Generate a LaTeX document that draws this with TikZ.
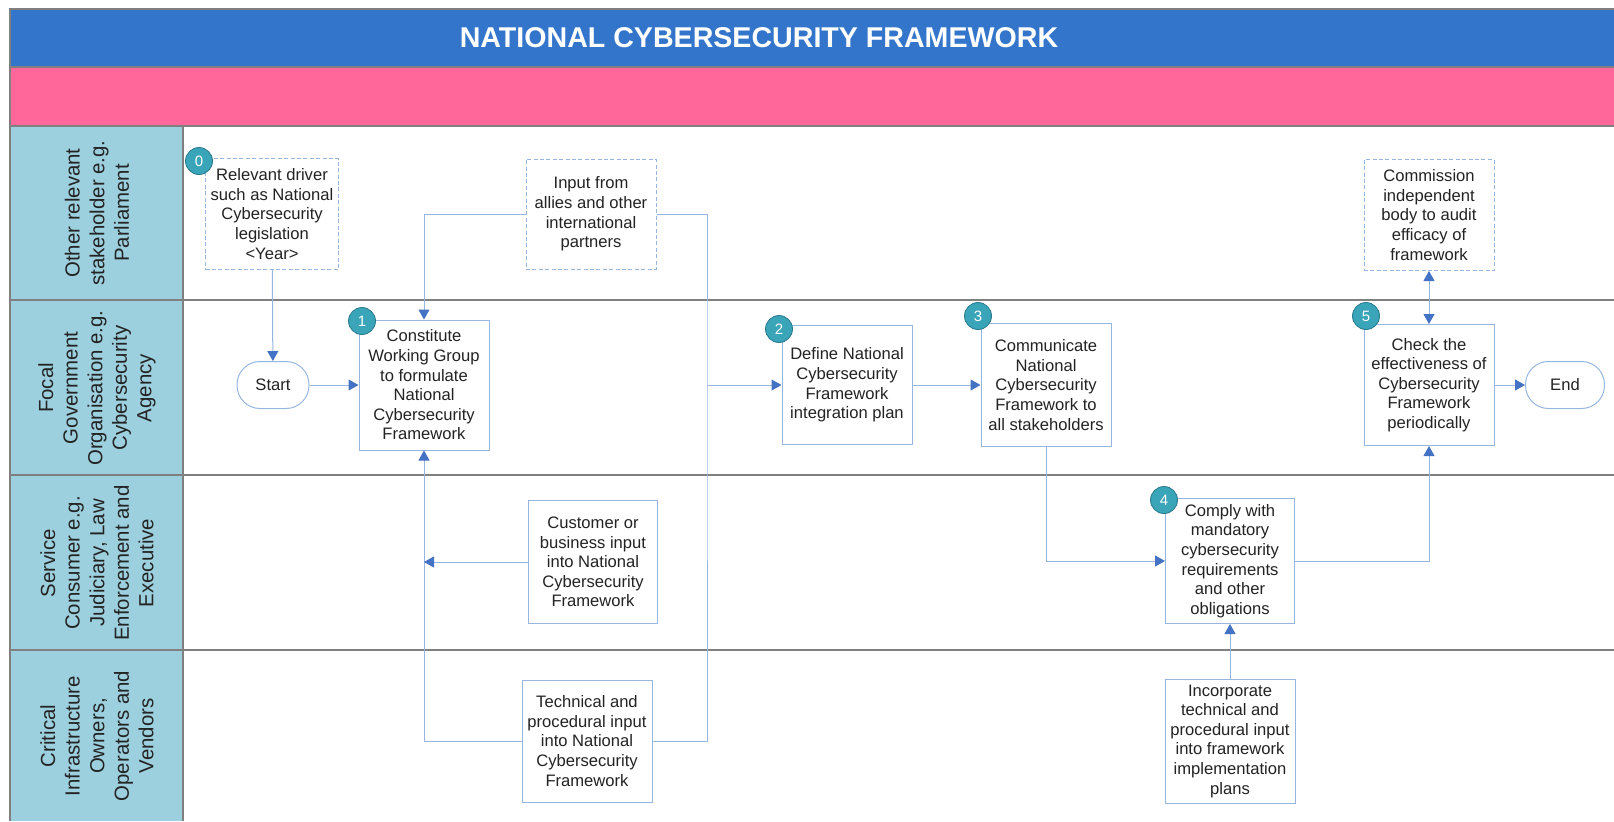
\documentclass[tikz,border=0pt]{standalone}
\usepackage{fontspec}
\setmainfont{Liberation Sans}
\usetikzlibrary{arrows.meta}
\definecolor{titleblue}{RGB}{52,117,204}
\definecolor{bandpink}{RGB}{255,102,153}
\definecolor{lanefill}{RGB}{157,208,222}
\definecolor{boxline}{RGB}{150,182,224}
\definecolor{arrowblue}{RGB}{68,114,196}
\definecolor{badgeteal}{RGB}{58,164,184}
\definecolor{badgeedge}{RGB}{40,120,140}
\definecolor{gridgray}{RGB}{128,128,128}
\definecolor{textgray}{RGB}{35,35,35}
\tikzset{
  proc/.style={draw=boxline, fill=white, line width=0.5pt, minimum width=65pt, inner sep=0pt, align=center, text=textgray, font=\fontsize{8.3}{9.8}\selectfont},
  ext/.style={proc, dash pattern=on 2pt off 1.2pt},
  term/.style={proc, rounded corners=11.5pt, minimum height=23.5pt},
  badge/.style={circle, draw=badgeedge, fill=badgeteal, minimum size=13.5pt, inner sep=0pt, text=white, font=\fontsize{7.5}{8}\selectfont},
  lane/.style={rotate=90, align=center, text=textgray, font=\fontsize{10.2}{12.3}\selectfont},
  title/.style={text=white, font=\fontsize{14.3}{17}\selectfont\bfseries},
  grid/.style={gridgray, line width=0.75pt},
  link/.style={draw=boxline, line width=0.5pt},
  flow/.style={link, -{Triangle[length=5pt, width=5.5pt, color=arrowblue]}},
  dflow/.style={link, {Triangle[length=5pt, width=5.5pt, color=arrowblue]}-{Triangle[length=5pt, width=5.5pt, color=arrowblue]}},
}
\begin{document}
\begin{tikzpicture}[x=0.5pt,y=-0.5pt]
        \useasboundingbox (0,0) rectangle (1614,821);
        \fill[titleblue] (10,9) rectangle (1614,67);
        \fill[bandpink] (10,67) rectangle (1614,126);
        \fill[lanefill] (10,126) rectangle (183,821);
        \draw[grid] (10,821) -- (10,9) -- (1614,9);
        \draw[grid] (10,67) -- (1614,67);
        \draw[grid] (10,126) -- (1614,126);
        \foreach \y in {300,475,650} \draw[grid] (10,\y) -- (1614,\y);
        \draw[grid] (183,126) -- (183,821);
        \node[title] (ttl) at (759,38) {NATIONAL CYBERSECURITY FRAMEWORK};
        
        \node[lane] (l1) at (97,213) {Other relevant\\stakeholder e.g.\\Parliament};
        \node[lane] (l2) at (97,388) {Focal\\Government\\Organisation e.g.\\Cybersecurity\\Agency};
        \node[lane] (l3) at (97,563) {Service\\Consumer e.g.\\Judiciary, Law\\Enforcement and\\Executive};
        \node[lane] (l4) at (97,736) {Critical\\Infrastructure\\Owners,\\Operators and\\Vendors};
        
        \node[ext, minimum width=66.5pt, minimum height=55.5pt] (drv) at (272,214) {Relevant driver\\such as National\\Cybersecurity\\legislation\\<Year>};
        \node[ext, minimum height=55pt] (allies) at (591,214) {Input from\\allies and other\\international\\partners};
        \node[ext, minimum height=55.5pt] (audit) at (1429,215) {Commission\\independent\\body to audit\\efficacy of\\framework};
        \node[term, minimum width=36pt] (start) at (273,385) {Start};
        \node[proc, minimum height=65pt] (wg) at (424,385) {Constitute\\Working Group\\to formulate\\National\\Cybersecurity\\Framework};
        \node[proc, minimum height=59.5pt] (plan) at (847,385) {Define National\\Cybersecurity\\Framework\\integration plan};
        \node[proc, minimum height=61.5pt] (comm) at (1046,385) {Communicate\\National\\Cybersecurity\\Framework to\\all stakeholders};
        \node[proc, minimum height=60.5pt] (check) at (1429,385) {Check the\\effectiveness of\\Cybersecurity\\Framework\\periodically};
        \node[term, minimum width=39.5pt] (finish) at (1565,385) {End};
        \node[proc, minimum width=64.5pt, minimum height=61.5pt] (cust) at (593,562) {Customer or\\business input\\into National\\Cybersecurity\\Framework};
        \node[proc, minimum width=64.5pt, minimum height=62.5pt] (comply) at (1230,561) {Comply with\\mandatory\\cybersecurity\\requirements\\and other\\obligations};
        \node[proc, minimum height=61pt] (tech) at (587,741) {Technical and\\procedural input\\into National\\Cybersecurity\\Framework};
        \node[proc, minimum height=62pt] (incorp) at (1230,741) {Incorporate\\technical and\\procedural input\\into framework\\implementation\\plans};
        
        \node[badge] (b0) at (199,161) {0};
        \node[badge] (b1) at (362,321) {1};
        \node[badge] (b2) at (779,329) {2};
        \node[badge] (b3) at (978,316) {3};
        \node[badge] (b4) at (1164,500) {4};
        \node[badge] (b5) at (1366,316) {5};
        
        \coordinate (jr) at (707,385);
        \draw[flow] (drv) -- (start);
        \draw[flow] (allies.west) -| (wg.north);
        \draw[link] (allies.east) -| (jr) |- (tech.east);
        \draw[flow] (jr) -- (plan.west);
        \draw[flow] (tech.west) -| (wg.south);
        \draw[flow] (cust.west) -- (cust.west -| wg.south);
        \draw[flow] (start) -- (wg);
        \draw[flow] (plan) -- (comm);
        \draw[flow] (comm.south) |- (comply.west);
        \draw[flow] (comply.east) -| (check.south);
        \draw[flow] (incorp) -- (comply);
        \draw[dflow] (audit) -- (check);
        \draw[flow] (check) -- (finish);
\end{tikzpicture}
\end{document}
